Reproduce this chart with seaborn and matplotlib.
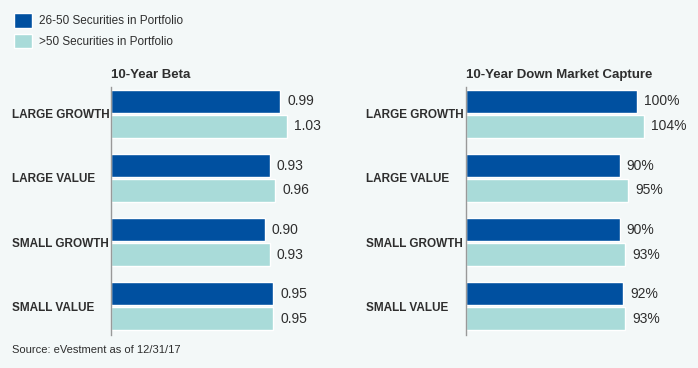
import seaborn as sns
import pandas as pd
import matplotlib.pyplot as plt
from matplotlib.patches import Patch

categories = ["LARGE GROWTH", "LARGE VALUE", "SMALL GROWTH", "SMALL VALUE"]
series = ["26-50 Securities in Portfolio", ">50 Securities in Portfolio"]
beta_26_50 = [0.99, 0.93, 0.90, 0.95]
beta_50_plus = [1.03, 0.96, 0.93, 0.95]
capture_26_50 = [100, 90, 90, 92]
capture_50_plus = [104, 95, 93, 93]

BG = "#f3f8f8"
DARK = "#0050a0"
LIGHT = "#a9dbd9"
TXT = "#2e2e2e"
FONT = ["Liberation Sans", "DejaVu Sans"]

sns.set_style("white")
plt.rcParams['font.family'] = FONT
plt.rcParams['text.color'] = TXT


def long_df(a, b):
    return pd.DataFrame({
        "cat": categories * 2,
        "series": [series[0]] * 4 + [series[1]] * 4,
        "val": list(a) + list(b),
    })


fig = plt.figure(figsize=(6.98, 3.68), dpi=100, facecolor=BG)
W, H = 698, 368


def px_axes(x0, x1, y0, y1):
    return fig.add_axes([x0 / W, 1 - y1 / H, (x1 - x0) / W, (y1 - y0) / H])


ax1 = px_axes(111, 111 + 1.2 * 171, 87, 335)
ax2 = px_axes(466, 466 + 120 * 1.71, 87, 335)

panels = [
    (ax1, long_df(beta_26_50, beta_50_plus), "10-Year Beta", (0, 1.2), "%.2f", 99),
    (ax2, long_df(capture_26_50, capture_50_plus), "10-Year Down Market Capture", (0, 120), "%.0f%%", 100),
]

for ax, df, title, xlim, fmt, pad in panels:
    sns.barplot(data=df, y="cat", x="val", hue="series", orient="h",
                palette=[DARK, LIGHT], saturation=1, width=0.78, gap=0.06,
                legend=False, ax=ax)
    ax.set_facecolor(BG)
    ax.set_xlim(*xlim)
    ax.set_ylim(3.45, -0.42)
    ax.set_xlabel("")
    ax.set_ylabel("")
    ax.set_xticks([])
    for s in ["top", "right", "bottom"]:
        ax.spines[s].set_visible(False)
    ax.spines["left"].set_color("#999999")
    ax.spines["left"].set_linewidth(1)
    ax.tick_params(axis="y", length=0, pad=pad * 0.72)
    for lbl in ax.get_yticklabels():
        lbl.set_horizontalalignment("left")
        lbl.set_fontweight("bold")
        lbl.set_fontsize(8.5)
        lbl.set_color(TXT)
    for cont in ax.containers:
        ax.bar_label(cont, fmt=fmt, padding=5, fontsize=10, color=TXT)
    ax.text(0, 1.025, title, transform=ax.transAxes, ha="left", va="bottom",
            fontsize=9.5, fontweight="bold", color=TXT)

handles = [Patch(facecolor=DARK), Patch(facecolor=LIGHT)]
fig.legend(handles, series, loc="upper left", bbox_to_anchor=(6 / W, 1 - 5 / H),
           frameon=False, fontsize=8.5, handlelength=1.5, handleheight=1.5,
           handletextpad=0.6, labelspacing=0.5, borderaxespad=0.3)

fig.text(12 / W, 1 - 350 / H, "Source: eVestment as of 12/31/17", ha="left", va="center",
         fontsize=8, color=TXT)

fig.savefig("out.png", dpi=100, facecolor=BG)
